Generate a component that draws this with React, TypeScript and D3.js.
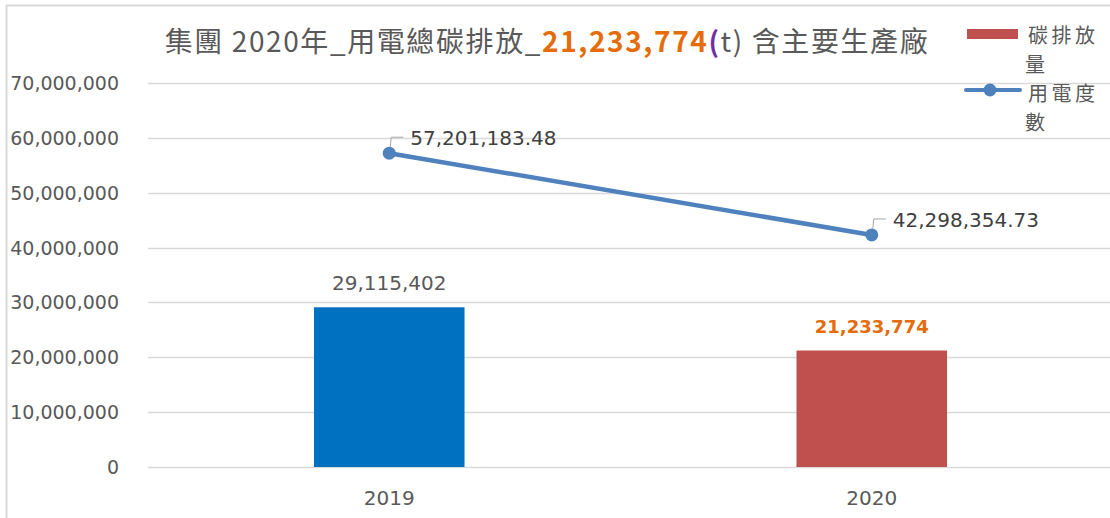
import React from "react";
import * as d3 from "d3";

const categories = ["2019", "2020"];
const carbonValues = [29115402, 21233774];
const powerValues = [57201183.48, 42298354.73];
const yTicks = [0, 10000000, 20000000, 30000000, 40000000, 50000000, 60000000, 70000000];
const barColors = ["#0070C0", "#C0504D"];
const powerLabels = ["57,201,183.48", "42,298,354.73"];
const carbonLabels = ["29,115,402", "21,233,774"];

const W = 1110;
const H = 518;
const FONT = "'DejaVu Sans', 'Noto Sans CJK TC', sans-serif";
const CJK = "'Noto Sans CJK TC', 'Noto Sans CJK SC', sans-serif";
const GRAY = "#595959";

export default function App() {
  const left = 148;
  const right = 1113;
  const x = d3.scaleBand<string>().domain(categories).range([left, right]).paddingInner(0.688).paddingOuter(0.344);
  const y = d3.scaleLinear().domain([0, 70000000]).range([467, 83]);
  const fmt = d3.format(",");
  const bw = x.bandwidth();
  const cx = (c: string) => (x(c) as number) + bw / 2;
  const line = d3.line<number>().x((_, i) => cx(categories[i])).y((d) => y(d));

  return (
    <svg width={W} height={H} style={{ position: "absolute", left: 0, top: 0, background: "#fff" }}>
      <rect x={0} y={0} width={W} height={H} fill="#fff" />
      <line x1={6.5} y1={5} x2={6.5} y2={H} stroke="#D9D9D9" strokeWidth={2} />
      <line x1={6} y1={5.5} x2={W} y2={5.5} stroke="#D9D9D9" strokeWidth={2} />

      {yTicks.map((t) => (
        <g key={t}>
          <line x1={left} x2={W} y1={Math.round(y(t)) + 0.5} y2={Math.round(y(t)) + 0.5} stroke="#D9D9D9" strokeWidth={1.3} />
          <text x={119} y={y(t) + 7} textAnchor="end" fontFamily={FONT} fontSize={19} fill={GRAY}>
            {fmt(t)}
          </text>
        </g>
      ))}

      {categories.map((c, i) => (
        <rect key={c} x={x(c)} y={y(carbonValues[i])} width={bw} height={y(0) - y(carbonValues[i])} fill={barColors[i]} />
      ))}

      {categories.map((c) => (
        <text key={c} x={cx(c)} y={505} textAnchor="middle" fontFamily={FONT} fontSize={20} fill={GRAY}>
          {c}
        </text>
      ))}

      <text x={cx(categories[0])} y={y(carbonValues[0]) - 17} textAnchor="middle" fontFamily={FONT} fontSize={20} fill={GRAY}>
        {carbonLabels[0]}
      </text>
      <text x={cx(categories[1])} y={y(carbonValues[1]) - 18} textAnchor="middle" fontFamily={FONT} fontSize={18} fontWeight="bold" fill="#E46C0A">
        {carbonLabels[1]}
      </text>

      <path d={line(powerValues) || ""} fill="none" stroke="#4F81BD" strokeWidth={4.5} strokeLinecap="round" />
      {categories.map((c, i) => {
        const px = cx(c);
        const py = y(powerValues[i]);
        return (
          <g key={c}>
            <circle cx={px} cy={py} r={6.5} fill="#4F81BD" />
            <polyline points={`${px + 1},${py - 6} ${px + 2},${py - 16} ${px + 14},${py - 16}`} fill="none" stroke="#A6A6A6" strokeWidth={1} />
            <text x={px + 21} y={py - 8} fontFamily={FONT} fontSize={20} fill="#404040">
              {powerLabels[i]}
            </text>
          </g>
        );
      })}

      <text x={547} y={52} textAnchor="middle" fontFamily={CJK} fontSize={28} letterSpacing={1.6} fill={GRAY}>
        <tspan>集團 2020年_用電總碳排放_</tspan>
        <tspan fill="#E46C0A" fontWeight="bold">21,233,774</tspan>
        <tspan fill="#7030A0" fontWeight="bold">(</tspan>
        <tspan>t) 含主要生產廠</tspan>
      </text>

      <rect x={967} y={29} width={51} height={10} fill="#C0504D" />
      <text x={1028} y={43} fontFamily={CJK} fontSize={20} letterSpacing={3.5} fill={GRAY}>碳排放</text>
      <text x={1025} y={72} fontFamily={CJK} fontSize={20} fill={GRAY}>量</text>
      <line x1={966} x2={1020} y1={90} y2={90} stroke="#4F81BD" strokeWidth={4} strokeLinecap="round" />
      <circle cx={990} cy={90} r={6.5} fill="#4F81BD" />
      <text x={1028} y={101} fontFamily={CJK} fontSize={20} letterSpacing={3.5} fill={GRAY}>用電度</text>
      <text x={1025} y={130} fontFamily={CJK} fontSize={20} fill={GRAY}>數</text>
    </svg>
  );
}
